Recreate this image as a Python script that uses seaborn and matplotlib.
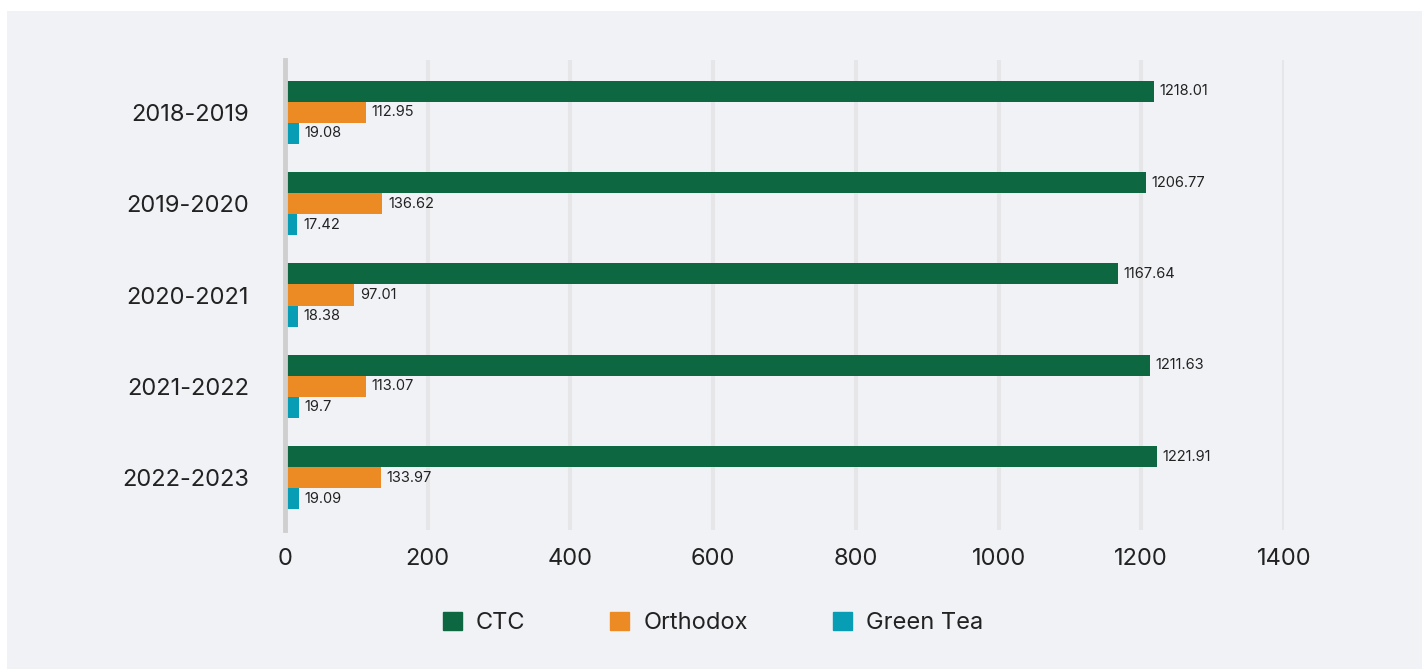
import matplotlib
matplotlib.use("Agg")
import matplotlib.pyplot as plt
import matplotlib.patches as mpatches
import pandas as pd
import seaborn as sns

# Data
years = ["2018-2019", "2019-2020", "2020-2021", "2021-2022", "2022-2023"]
ctc = [1218.01, 1206.77, 1167.64, 1211.63, 1221.91]
orthodox = [112.95, 136.62, 97.01, 113.07, 133.97]
green_tea = [19.08, 17.42, 18.38, 19.7, 19.09]
series = ["CTC", "Orthodox", "Green Tea"]
colors = ["#0d6841", "#ec8a23", "#069db5"]
xticks = [0, 200, 400, 600, 800, 1000, 1200, 1400]

df = pd.DataFrame({
    "year": years * 3,
    "value": ctc + orthodox + green_tea,
    "type": [s for s in series for _ in years],
})

sns.set_style("white")
plt.rcParams["font.family"] = ["Inter", "DejaVu Sans"]
text_color = "#222222"

fig = plt.figure(figsize=(14.26, 6.69), dpi=100)
fig.patch.set_facecolor("white")
# light grey panel behind everything
fig.patches.append(mpatches.Rectangle((7 / 1426, 0), 1415 / 1426, 658 / 669,
                                      transform=fig.transFigure, facecolor="#f1f2f6",
                                      edgecolor="none", zorder=-10))

ax = fig.add_axes([285 / 1426, 1 - 530 / 669, 999 / 1426, 470 / 669])
ax.set_facecolor("none")

sns.barplot(data=df, x="value", y="year", hue="type", orient="h",
            palette=colors, width=0.69, gap=0, linewidth=0, saturation=1,
            ax=ax, legend=False)

for cont in ax.containers:
    ax.bar_label(cont, labels=[f"{v:g}" for v in cont.datavalues], padding=4,
                 fontsize=10.5, color=text_color)

ax.set_xlim(0, 1400)
ax.set_ylim(4.57, -0.57)
ax.set_xticks(xticks)
ax.set_xticklabels([str(t) for t in xticks])
for t in xticks[1:]:
    ax.axvline(t, color="#e6e6e8", lw=3, zorder=0)

for side in ["top", "right", "bottom"]:
    ax.spines[side].set_visible(False)
ax.spines["left"].set_color("#cfcfcf")
ax.spines["left"].set_linewidth(3.5)

ax.tick_params(axis="x", length=0, pad=13, labelsize=17, labelcolor=text_color)
ax.tick_params(axis="y", length=0, pad=26, labelsize=17, labelcolor=text_color)
ax.set_xlabel("")
ax.set_ylabel("")

handles = [mpatches.Patch(color=c, label=s) for s, c in zip(series, colors)]
fig.legend(handles=handles, loc="center", bbox_to_anchor=(0.5, 1 - 623 / 669),
           ncol=3, frameon=False, fontsize=17, handlelength=0.8, handleheight=0.8,
           handletextpad=0.6, columnspacing=3.6, labelcolor=text_color)

fig.savefig("out.png", dpi=100)
